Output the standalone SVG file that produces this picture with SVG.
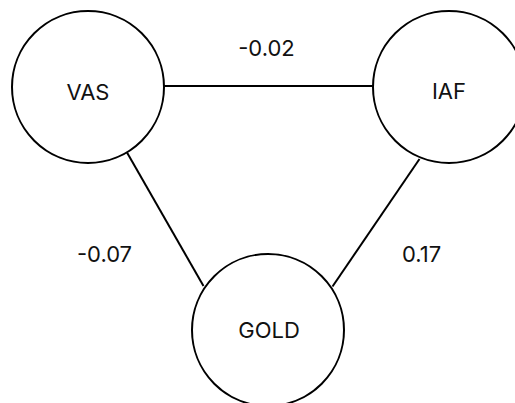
<svg xmlns="http://www.w3.org/2000/svg" width="515" height="403" viewBox="0 0 515 403">
<style>
.node circle{fill:#fff;stroke:#000;stroke-width:2}
.edges line{stroke:#000;stroke-width:2}
text{font-family:Inter,"Liberation Sans",sans-serif;font-size:22px;fill:#111;text-anchor:middle}
</style>
<rect width="515" height="403" fill="#fff"/>
<g class="edges" id="edges">
<line x1="164" y1="86" x2="373" y2="86"/>
<line x1="127" y1="152.5" x2="203.5" y2="286"/>
<line x1="419.5" y1="159" x2="332.5" y2="286.5"/>
<text x="266.5" y="56">-0.02</text>
<text x="104.5" y="261.5">-0.07</text>
<text x="421.5" y="261.5">0.17</text>
</g>
<g class="node" id="VAS"><circle cx="88" cy="87" r="76"/><text x="88" y="99.5">VAS</text></g>
<g class="node" id="IAF"><circle cx="449" cy="87" r="76"/><text x="449" y="98.5">IAF</text></g>
<g class="node" id="GOLD"><circle cx="268" cy="330" r="76"/><text x="269" y="337.5">GOLD</text></g>
</svg>
